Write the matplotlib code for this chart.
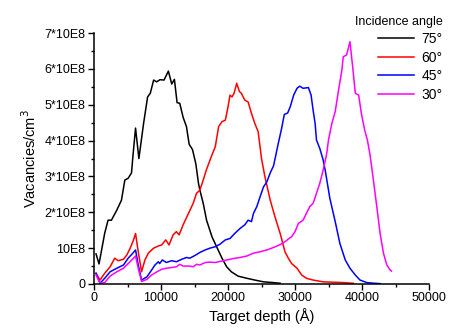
import matplotlib
matplotlib.use('Agg')
import matplotlib.pyplot as plt
from matplotlib.ticker import MultipleLocator

plt.rcParams['font.family'] = ['Liberation Sans', 'DejaVu Sans']

# vacancy profiles, y in units of 1E8 vacancies/cm^3
depth_75 = [300, 750, 1600, 2100, 2600, 3400, 4100, 4600, 5100, 5600, 5800, 6200, 6700,
            7400, 8000, 8400, 8900, 9350, 9850, 10450, 11100, 11600, 12000, 12400, 12800,
            13300, 13800, 14200, 14700, 15200, 15600, 15800, 16300, 16800, 17600, 18300,
            19100, 19800, 20500, 21500, 22800, 24000, 25300, 26700, 27800]
vac_75 = [0.84, 0.56, 1.42, 1.78, 1.78, 2.06, 2.34, 2.9, 2.95, 3.1, 3.55, 4.35, 3.5,
          4.48, 5.22, 5.32, 5.69, 5.64, 5.7, 5.69, 5.94, 5.58, 5.71, 5.06, 5.04,
          4.65, 4.39, 3.9, 3.75, 3.35, 2.8, 2.62, 2.25, 1.78, 1.32, 1.04,
          0.72, 0.48, 0.34, 0.22, 0.16, 0.11, 0.06, 0.04, 0.02]

depth_60 = [300, 900, 1600, 2400, 3100, 3600, 4400, 4900, 5400, 5900, 6200, 6600, 7100,
            7600, 8100, 8900, 9600, 10100, 10700, 11200, 11800, 12300, 12700, 13300, 14100,
            14800, 15300, 15800, 16300, 16800, 17600, 18100, 18600, 19100, 19600, 20000,
            20300, 20600, 20900, 21300, 21700, 22000, 22500, 23000, 23500, 24000, 24500,
            25000, 25500, 26300, 27000, 27800, 28500, 29000, 29500, 30300, 31000, 31700,
            32700, 34200, 35700, 37200, 38700]
vac_60 = [0.3, 0.11, 0.3, 0.48, 0.72, 0.65, 0.69, 0.81, 1.0, 1.23, 1.41, 0.9, 0.34,
          0.67, 0.86, 1.0, 1.06, 1.09, 1.23, 1.09, 1.37, 1.46, 1.37, 1.65, 1.97,
          2.25, 2.53, 2.62, 2.9, 3.2, 3.6, 3.83, 4.39, 4.53, 4.57, 4.94,
          5.27, 5.22, 5.32, 5.6, 5.37, 5.32, 5.13, 5.08, 4.76, 4.48, 4.25,
          3.5, 3.0, 2.34, 1.88, 1.4, 0.9, 0.72, 0.57, 0.44, 0.25, 0.16,
          0.11, 0.06, 0.05, 0.04, 0.02]

depth_45 = [300, 900, 1600, 2400, 3400, 4400, 5100, 5800, 6200, 6600, 7100, 7900, 8600,
            9100, 9600, 9800, 10200, 10800, 11600, 12300, 13100, 13800, 14300, 15100,
            15800, 16600, 17300, 18100, 18800, 19600, 20300, 21000, 21800, 22500, 23000,
            23500, 23800, 24300, 24800, 25300, 25800, 26300, 26800, 27500, 28000, 28400,
            28900, 29300, 29800, 30300, 30700, 31200, 32000, 32400, 32700, 33000, 33200,
            33700, 34200, 34500, 35200, 36000, 36700, 37500, 38200, 39000, 39700, 40700,
            41900, 42700]
vac_45 = [0.3, 0.02, 0.16, 0.34, 0.44, 0.53, 0.72, 0.86, 0.95, 0.53, 0.11, 0.2, 0.39,
          0.53, 0.62, 0.57, 0.67, 0.6, 0.65, 0.62, 0.69, 0.74, 0.72, 0.8,
          0.88, 0.95, 1.0, 1.04, 1.11, 1.23, 1.27, 1.41, 1.55, 1.65, 1.78,
          1.74, 1.97, 2.16, 2.44, 2.71, 2.85, 3.1, 3.3, 3.92, 4.34, 4.73,
          4.77, 4.95, 5.27, 5.46, 5.52, 5.46, 5.48, 5.27, 4.85, 4.48, 4.02,
          3.78, 3.46, 3.18, 2.39, 1.74, 1.13, 0.67, 0.44, 0.25, 0.11, 0.04,
          0.02, 0.01]

depth_30 = [300, 900, 1600, 2400, 3400, 4400, 5100, 5900, 6200, 6600, 7100, 7900, 8600,
            9400, 10100, 10800, 11600, 12300, 12800, 13300, 13800, 14300, 14800, 15300,
            15800, 16600, 17300, 18100, 18800, 19800, 20800, 21800, 22800, 23800, 24800,
            25800, 26800, 27800, 28500, 29100, 29500, 30000, 30500, 31200, 31700, 32200,
            32700, 33200, 33700, 34200, 34700, 35000, 35500, 36000, 36500, 37000, 37200,
            37700, 38200, 38600, 39000, 39500, 39900, 40400, 40800, 41200, 41700, 42200,
            42700, 43200, 43700, 44200, 44400]
vac_30 = [0.25, 0.02, 0.04, 0.22, 0.34, 0.44, 0.57, 0.72, 0.78, 0.44, 0.07, 0.13, 0.25,
          0.34, 0.41, 0.44, 0.46, 0.48, 0.55, 0.5, 0.5, 0.5, 0.48, 0.55,
          0.53, 0.6, 0.61, 0.6, 0.63, 0.67, 0.71, 0.74, 0.78, 0.86, 0.9,
          0.95, 1.02, 1.1, 1.18, 1.27, 1.32, 1.46, 1.69, 1.78, 1.97, 2.16,
          2.25, 2.53, 2.81, 3.18, 3.6, 4.02, 4.48, 4.81, 5.41, 5.97, 6.34,
          6.39, 6.76, 6.07, 5.32, 5.27, 4.76, 4.29, 4.02, 3.6, 2.9, 2.16,
          1.41, 0.86, 0.53, 0.39, 0.36]

y_ticks = [0, 1, 2, 3, 4, 5, 6, 7]
y_tick_labels = ['0', '10E8', '2*10E8', '3*10E8', '4*10E8', '5*10E8', '6*10E8', '7*10E8']
x_ticks = [0, 10000, 20000, 30000, 40000, 50000]

fig = plt.figure(figsize=(4.55, 3.31), dpi=100)
ax = fig.add_axes([0.2066, 0.142, 0.7363, 0.758])

ax.plot(depth_75, vac_75, color='black', lw=1.1, label='75°')
ax.plot(depth_60, vac_60, color='#ff0000', lw=1.1, label='60°')
ax.plot(depth_45, vac_45, color='#0000ff', lw=1.1, label='45°')
ax.plot(depth_30, vac_30, color='#ff00ff', lw=1.1, label='30°')

ax.set_xlim(0, 50000)
ax.set_ylim(0, 7)
ax.set_xticks(x_ticks)
ax.set_xticklabels([str(t) for t in x_ticks])
ax.set_yticks(y_ticks)
ax.set_yticklabels(y_tick_labels)
ax.xaxis.set_minor_locator(MultipleLocator(5000))
ax.yaxis.set_minor_locator(MultipleLocator(0.5))
ax.tick_params(which='major', direction='out', length=4, width=1, labelsize=9, pad=2)
ax.tick_params(which='minor', direction='out', length=2.5, width=1)
for s in ['top', 'right']:
    ax.spines[s].set_visible(False)
for s in ['left', 'bottom']:
    ax.spines[s].set_linewidth(1.1)

ax.set_xlabel('Target depth (Å)', fontsize=10.5, labelpad=3)
ax.set_ylabel('Vacancies/cm$^3$', fontsize=10.5, labelpad=4)

leg = fig.legend(loc='upper right', bbox_to_anchor=(1.0, 0.99), frameon=False,
                 title='Incidence angle', fontsize=10, title_fontsize=9,
                 handlelength=2.6, handletextpad=0.5, labelspacing=0.32)
leg._legend_box.align = 'right'

fig.savefig('out.png', dpi=100)
